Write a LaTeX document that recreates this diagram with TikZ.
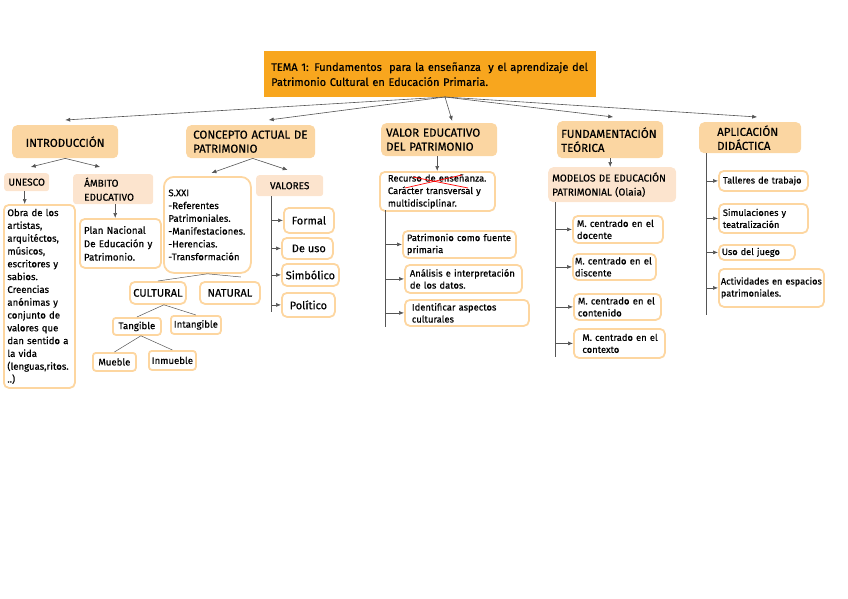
\documentclass[tikz,border=0pt]{standalone}
\usepackage{fontspec}
\setmainfont{Fira Sans}[FakeBold=0.4]
\usetikzlibrary{arrows.meta}
\definecolor{temanaranja}{RGB}{248,166,30}
\definecolor{nivelrelleno}{RGB}{251,214,162}
\definecolor{subrelleno}{RGB}{252,228,206}
\definecolor{bordenaranja}{RGB}{253,214,160}
\definecolor{lineagris}{RGB}{85,85,85}
\tikzset{
  tema/.style={fill=temanaranja, inner sep=0pt, align=left, anchor=north west, font=\fontsize{11}{15}\selectfont},
  nivel/.style={fill=nivelrelleno, rounded corners=5pt, inner sep=0pt, align=left, anchor=north west, font=\fontsize{11.5}{14}\selectfont},
  subnivel/.style={fill=subrelleno, rounded corners=3pt, inner sep=0pt, align=left, anchor=north west, font=\fontsize{10}{14}\selectfont},
  caja/.style={draw=bordenaranja, line width=1.8pt, fill=white, rounded corners=5pt, inner sep=0pt, align=left, anchor=north west, font=\fontsize{9.6}{12.8}\selectfont},
  flecha/.style={draw=lineagris, line width=0.6pt, -{Latex[length=5pt,width=4pt]}},
  rama/.style={draw=lineagris, line width=0.5pt},
}
\begin{document}
\begin{tikzpicture}[x=1pt,y=-1pt]
                    \useasboundingbox (0,0) rectangle (848,599);

                    % Draw title
                    \node[tema, minimum width=332, minimum height=46, text width=318pt] (tema) at (264,51)
                      {TEMA 1: Fundamentos\ \ para la enseñanza\ \ y el aprendizaje del\\Patrimonio Cultural en Educación Primaria.};
                    \coordinate (raiz) at (445,97);

                    % Draw main blocks
                    \node[nivel, align=center, minimum width=106, minimum height=33] (intro) at (12,125) {INTRODUCCIÓN};
                    \node[nivel, minimum width=129, minimum height=33, text width=115pt] (concepto) at (186,125) {CONCEPTO ACTUAL DE\\PATRIMONIO};
                    \node[nivel, minimum width=116, minimum height=33, text width=106pt] (valor) at (381,123) {VALOR EDUCATIVO\\DEL PATRIMONIO};
                    \node[nivel, minimum width=106, minimum height=37, text width=98pt] (fundamentacion) at (557,121) {FUNDAMENTACIÓN\\TEÓRICA};
                    \node[nivel, minimum width=102, minimum height=31, text width=66pt] (aplicacion) at (699,122) {APLICACIÓN\\DIDÁCTICA};

                    \draw[flecha] (raiz) -- ([yshift=5pt]intro.north);
                    \draw[flecha] (raiz) -- ([xshift=18pt,yshift=5pt]concepto.north);
                    \draw[flecha] (raiz) -- ([xshift=13pt,yshift=2pt]valor.north);
                    \draw[flecha] (raiz) -- ([xshift=3pt,yshift=4pt]fundamentacion.north);
                    \draw[flecha] (raiz) -- ([xshift=7pt,yshift=5pt]aplicacion.north);

                    % Introduccion
                    \node[subnivel, align=center, minimum width=45, minimum height=18] (unesco) at (4,173) {UNESCO};
                    \node[subnivel, minimum width=80, minimum height=30, text width=58pt] (ambito) at (73,174) {ÁMBITO\\EDUCATIVO};
                    \node[caja, minimum width=71, minimum height=183, text width=64pt] (obra) at (3,204)
                      {Obra de los\\artistas,\\arquitéctos,\\músicos,\\escritores y\\sabios.\\Creencias\\anónimas y\\conjunto de\\valores que\\dan sentido a\\la vida\\(lenguas,ritos.\\..)};
                    \node[caja, minimum width=81, minimum height=49, text width=73pt, font=\fontsize{9.8}{13.4}\selectfont] (plan) at (79,218)
                      {Plan Nacional\\De Educación y\\Patrimonio.};

                    \draw[flecha] (intro.south) -- ([xshift=4pt,yshift=6pt]unesco.north);
                    \draw[flecha] (intro.south) -- ([xshift=-13pt,yshift=7pt]ambito.north);
                    \draw[flecha] ([xshift=-2pt]unesco.south) -- ([xshift=-2pt]unesco.south |- obra.north);
                    \draw[flecha] ([xshift=2pt]ambito.south) -- ([xshift=2pt]ambito.south |- plan.north);

                    % Concepto actual de patrimonio
                    \node[caja, rounded corners=10pt, minimum width=87, minimum height=96, text width=78pt] (sxxi) at (163,176)
                      {S.XXI\\-Referentes\\Patrimoniales.\\-Manifestaciones.\\-Herencias.\\-Transformación};
                    \node[subnivel, align=center, minimum width=67, minimum height=21] (valores) at (256,175) {VALORES};
                    \node[caja, align=center, font=\fontsize{11}{13}\selectfont, minimum width=50, minimum height=25] (formal) at (283,207) {Formal};
                    \node[caja, align=center, font=\fontsize{11}{13}\selectfont, minimum width=51, minimum height=21] (deuso) at (281,237) {\ De uso};
                    \node[caja, align=center, font=\fontsize{11}{13}\selectfont, minimum width=57, minimum height=22] (simbolico) at (281,263) {Simbólico};
                    \node[caja, align=center, font=\fontsize{11}{13}\selectfont, minimum width=53, minimum height=24] (politico) at (281,292) {Político};
                    \node[caja, align=center, font=\fontsize{11}{13}\selectfont, minimum width=56, minimum height=22] (cultural) at (129,281) {CULTURAL};
                    \node[caja, align=center, font=\fontsize{11}{13}\selectfont, minimum width=60, minimum height=22] (natural) at (199,281) {NATURAL};
                    \node[caja, align=center, rounded corners=3pt, minimum width=48, minimum height=17] (tangible) at (112,317) {Tangible};
                    \node[caja, align=center, rounded corners=3pt, minimum width=50, minimum height=18] (intangible) at (170,315) {Intangible};
                    \node[caja, align=center, rounded corners=3pt, minimum width=43, minimum height=18] (mueble) at (92,352) {Mueble};
                    \node[caja, align=center, rounded corners=3pt, minimum width=47, minimum height=19] (inmueble) at (148,350) {Inmueble};

                    \draw[flecha] ([xshift=2pt]concepto.south) -- ([xshift=4pt,yshift=3pt]sxxi.north);
                    \draw[flecha] ([xshift=2pt]concepto.south) -- ([xshift=-2pt,yshift=5pt]valores.north);
                    \coordinate (valtronco) at (271,196);
                    \coordinate (valfin) at (271,312);
                    \draw[rama] (valtronco) -- (valfin);
                    \draw[flecha] (valtronco |- formal.west) -- (formal.west);
                    \draw[flecha] (valtronco |- deuso.west) -- (deuso.west);
                    \draw[flecha] (valtronco |- simbolico.west) -- (simbolico.west);
                    \draw[flecha] (valtronco |- politico.west) -- (politico.west);
                    \draw[rama] (sxxi.south) -- (cultural.north);
                    \draw[rama] (sxxi.south) -- ([xshift=11pt,yshift=4pt]natural.north);
                    \draw[rama] ([xshift=6pt]cultural.south) -- (tangible.north);
                    \draw[rama] ([xshift=6pt]cultural.south) -- (intangible.north);
                    \draw[rama] ([xshift=4pt]tangible.south) -- (mueble.north);
                    \draw[rama] ([xshift=4pt]tangible.south) -- (inmueble.north);

                    % Valor educativo del patrimonio
                    \node[caja, minimum width=115, minimum height=39, text width=99pt, font=\fontsize{9.4}{12.5}\selectfont] (recurso) at (379,171)
                      {Recurso de enseñanza.\\Carácter transversal y\\multidisciplinar.};
                    \node[caja, minimum width=113, minimum height=27, text width=105pt, font=\fontsize{9.4}{12}\selectfont] (fuente) at (402,230)
                      {Patrimonio como fuente\\primaria};
                    \node[caja, minimum width=117, minimum height=28, text width=107pt, font=\fontsize{9.4}{12}\selectfont] (analisis) at (404,264)
                      {Análisis e interpretación\\de los datos.};
                    \node[caja, minimum width=124, minimum height=26, text width=110pt, font=\fontsize{9.4}{12}\selectfont] (identificar) at (404,299)
                      {Identificar aspectos\\culturales};
                    \draw[red, line width=0.7pt] (405,188) -- (462,175);
                    \draw[red, line width=0.7pt] (413,177) -- (468,188);

                    \draw[flecha] ([xshift=-2pt]valor.south) -- ([xshift=-2pt]valor.south |- recurso.north);
                    \coordinate (recurtronco) at (385,210);
                    \coordinate (recurfin) at (385,327);
                    \draw[rama] (recurtronco) -- (recurfin);
                    \draw[flecha] (recurtronco |- fuente.west) -- (fuente.west);
                    \draw[flecha] (recurtronco |- analisis.west) -- (analisis.west);
                    \draw[flecha] (recurtronco |- identificar.west) -- (identificar.west);

                    % Fundamentacion teorica
                    \node[subnivel, rounded corners=5pt, minimum width=128, minimum height=35, text width=120pt, font=\fontsize{10}{14}\selectfont] (modelos) at (548,167)
                      {MODELOS DE EDUCACIÓN\\PATRIMONIAL (Olaia)};
                    \node[caja, minimum width=90, minimum height=27, text width=82pt, font=\fontsize{9.6}{12}\selectfont] (docente) at (572,215) {M. centrado en el\\docente};
                    \node[caja, minimum width=83, minimum height=26, text width=79pt, font=\fontsize{9.6}{12}\selectfont] (discente) at (572,253) {M. centrado en el\\discente};
                    \node[caja, minimum width=87, minimum height=26, text width=79pt, font=\fontsize{9.6}{12}\selectfont] (contenido) at (573,293) {M. centrado en el\\contenido};
                    \node[caja, minimum width=91, minimum height=29, text width=82pt, font=\fontsize{9.4}{12}\selectfont] (contexto) at (573,328) {\hspace*{4pt}M. centrado en el\\\hspace*{4pt}contexto};

                    \draw[flecha] (fundamentacion.south) -- (fundamentacion.south |- modelos.north);
                    \coordinate (modtronco) at (555,202);
                    \coordinate (modfin) at (555,357);
                    \draw[rama] (modtronco) -- (modfin);
                    \draw[flecha] (modtronco |- docente.west) -- (docente.west);
                    \draw[flecha] (modtronco |- discente.west) -- (discente.west);
                    \draw[flecha] (modtronco |- contenido.west) -- (contenido.west);
                    \draw[flecha] (modtronco |- contexto.west) -- (contexto.west);

                    % Aplicacion didactica
                    \node[caja, minimum width=89, minimum height=20, text width=81pt, font=\fontsize{9.2}{12}\selectfont] (talleres) at (718,170) {Talleres de trabajo};
                    \node[caja, minimum width=89, minimum height=29, text width=81pt, font=\fontsize{9.2}{12}\selectfont] (simulaciones) at (718,203) {Simulaciones y\\teatralización};
                    \node[caja, minimum width=76, minimum height=15, text width=70pt, font=\fontsize{9.2}{12}\selectfont] (juego) at (718,244) {Uso del juego};
                    \node[caja, minimum width=105, minimum height=38, text width=101pt, font=\fontsize{9.2}{12}\selectfont] (actividades) at (718,268) {Actividades en espacios\\patrimoniales.};

                    \coordinate (aplitronco) at (706,153);
                    \coordinate (aplifin) at (706,315);
                    \draw[rama] (aplitronco) -- (aplifin);
                    \draw[flecha] (aplitronco |- talleres.west) -- (talleres.west);
                    \draw[flecha] (aplitronco |- simulaciones.west) -- (simulaciones.west);
                    \draw[flecha] (aplitronco |- juego.west) -- (juego.west);
                    \draw[flecha] (aplitronco |- actividades.west) -- (actividades.west);
                \end{tikzpicture}
\end{document}
